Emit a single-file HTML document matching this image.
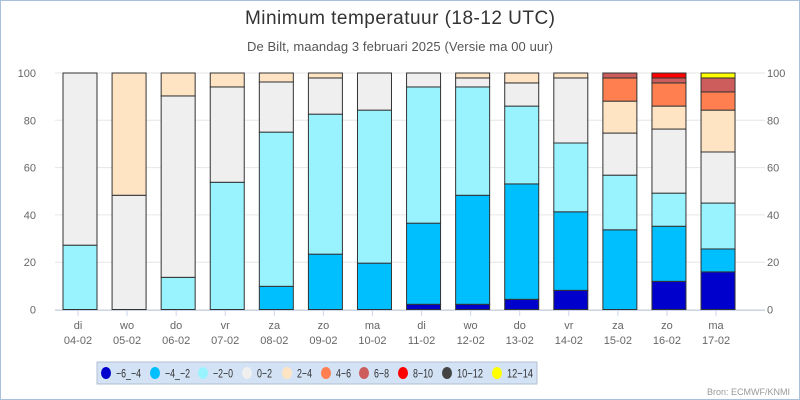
<!DOCTYPE html>
<html><head><meta charset="utf-8"><style>
body{margin:0;background:#fff;font-family:"Liberation Sans",sans-serif}
#wrap{position:relative;width:798px;height:398px;border:1px solid #a8c0dc;overflow:hidden}
</style></head><body>
<div id="wrap">
<svg id="chart" width="800" height="400" style="position:absolute;left:-1px;top:-1px">
<text x="400" y="24" text-anchor="middle" font-size="19" textLength="310" fill="#333">Minimum temperatuur (18-12 UTC)</text>
<text x="400" y="51" text-anchor="middle" font-size="13" textLength="306" fill="#555">De Bilt, maandag 3 februari 2025 (Versie ma 00 uur)</text>
<g id="grid"></g><g id="bars"></g><g id="axes"></g>
<rect x="97" y="362" width="440" height="22" fill="#d3e2f5" stroke="#b0bfd0"/>
<g id="legend"></g>
<text x="790" y="395" text-anchor="end" font-size="9" fill="#999">Bron: ECMWF/KNMI</text>
</svg>
</div>
<script>
const days=["di","wo","do","vr","za","zo","ma","di","wo","do","vr","za","zo","ma"];
const dates=["04-02","05-02","06-02","07-02","08-02","09-02","10-02","11-02","12-02","13-02","14-02","15-02","16-02","17-02"];
const classes=["-6_-4","-4_-2","-2-0","0-2","2-4","4-6","6-8","8-10","10-12","12-14"];
const colors=["#0000cc","#00bfff","#99f3ff","#efefef","#ffe4c4","#ff7f50","#cd5c5c","#ff0000","#444444","#ffff00"];
const s_m6=[0,0,0,0,0,0,0,2.2,2.2,4.3,8.1,0,11.9,15.9];
const s_m4=[0,0,0,0,9.8,23.4,19.6,34.3,46.1,48.8,33.2,33.7,23.3,9.7];
const s_m2=[27.2,0,13.6,53.8,65.2,59.2,64.7,57.6,45.8,32.9,29.1,23.1,14,19.4];
const s_0=[72.8,48.3,76.7,40.3,21.2,15.3,15.7,5.9,3.8,9.8,27.5,17.8,27.1,21.6];
const s_2=[0,51.7,9.7,5.9,3.8,2.1,0,0,2.1,4.2,2.1,13.5,9.7,17.7];
const s_4=[0,0,0,0,0,0,0,0,0,0,0,9.8,9.8,7.7];
const s_6=[0,0,0,0,0,0,0,0,0,0,0,2.1,2.1,5.9];
const s_8=[0,0,0,0,0,0,0,0,0,0,0,0,2.1,0];
const s_10=[0,0,0,0,0,0,0,0,0,0,0,0,0,0];
const s_12=[0,0,0,0,0,0,0,0,0,0,0,0,0,2.1];
const yTicks=[0,20,40,60,80,100];
const series=[s_m6,s_m4,s_m2,s_0,s_2,s_4,s_6,s_8,s_10,s_12];
const NS="http://www.w3.org/2000/svg";
const y=v=>309.5-v*2.365;
const x=i=>80+i*49.08;
function mk(t,a,p){const e=document.createElementNS(NS,t);for(const k in a)e.setAttribute(k,a[k]);p.appendChild(e);return e;}
const G=document.getElementById('grid'),B=document.getElementById('bars'),A=document.getElementById('axes'),L=document.getElementById('legend');
yTicks.forEach(v=>{
 const l=mk('line',{x1:55,x2:765,y1:y(v),y2:y(v),stroke:'#e6e6e6'},G);
 
 
 const t1=mk('text',{x:36,y:y(v)+4,'text-anchor':'end','font-size':11,fill:'#666'},A);t1.textContent=v;
 
 
 const t2=mk('text',{x:767,y:y(v)+4,'font-size':11,fill:'#666'},A);t2.textContent=v;
 
 
});
mk('line',{x1:55,x2:765,y1:310.5,y2:310.5,stroke:'#ccd6eb'},A);
days.forEach((d,i)=>{
 let cum=0;
 series.forEach((s,k)=>{
  const v=s[i];if(v<=0)return;
  const r=mk('rect',{x:x(i)-17,y:y(cum+v),width:34,height:v*2.365,fill:colors[k],stroke:'#333','stroke-width':1},B);
  
  
  cum+=v;
 });
 mk('line',{x1:x(i)-2,x2:x(i)-2,y1:311,y2:316,stroke:'#ccd6eb'},A);
 const t=mk('text',{x:x(i)-2,y:329,'text-anchor':'middle','font-size':11,fill:'#666'},A);t.textContent=d;
 
 
 const t2=mk('text',{x:x(i)-2,y:344,'text-anchor':'middle','font-size':11,fill:'#666'},A);t2.textContent=dates[i];
 
 
});
const lx=[106,155,203,247,287,326,364,403,447,497];
const lw=[25,25,20,15,15,15,15,20,26,26];
const labels=["−6_−4","−4_−2","−2−0","0−2","2−4","4−6","6−8","8−10","10−12","12−14"];
labels.forEach((lab,k)=>{
 const g=mk('g',{},L);
 
 
 mk('ellipse',{cx:lx[k],cy:373,rx:5,ry:6,fill:colors[k]},g);
 const t=mk('text',{x:lx[k]+10,y:377.5,'font-size':12,fill:'#333',textLength:lw[k],lengthAdjust:'spacingAndGlyphs'},g);t.textContent=lab;
});
</script>
</body></html>
